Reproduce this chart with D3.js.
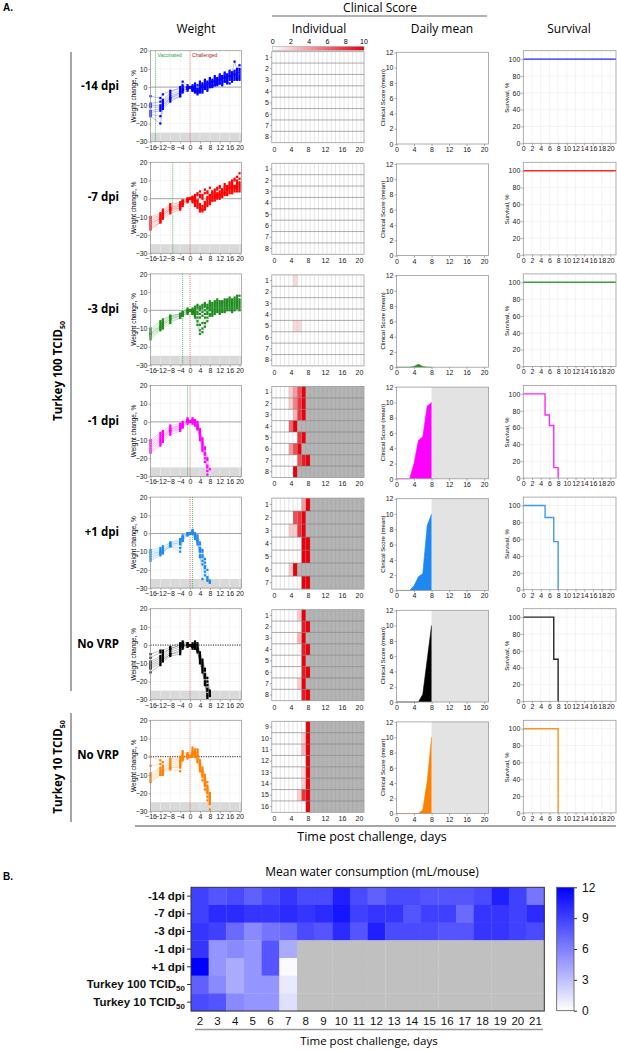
<!DOCTYPE html>
<html><head><meta charset="utf-8">
<script src="https://cdn.jsdelivr.net/npm/d3@7"></script>
<style>
body{margin:0;background:#fff}
svg{display:block}
text{font-family:"Liberation Sans",Arial,sans-serif}
.hd{font-family:"Open Sans",sans-serif}
</style>
</head><body><svg id="c" width="617" height="1050"></svg>
<script>
// ---------------- DATA ----------------
const rowLabels = ["-14 dpi","-7 dpi","-3 dpi","-1 dpi","+1 dpi","No VRP","No VRP"];
const rowColors = ["#0000ff","#ff0000","#1e8c1e","#ff00ff","#1e88f0","#000000","#ff8000"];
const vaccDays  = [-14,-7,-3,-1,1,null,null];
const mouseIds  = [[1,2,3,4,5,6,7,8],[1,2,3,4,5,6,7,8],[1,2,3,4,5,6,7,8],[1,2,3,4,5,6,7,8],[1,2,3,4,5,6,7],[1,2,3,4,5,6,7,8],[9,10,11,12,13,14,15,16]];

const weightDaysLong  = [-16,-12,-11,-8,-4,-3,-1,0,1,2,3,4,5,6,7,8,9,10,11,12,13,14,15,16,17,18,19,20];
const weightDaysShort = [-16,-12,-11,-8,-4,-3,-1,0,1,2,3,4,5,6,7,8];

const weightR1 = [
 [-5,-6,-4,-2,-1,3,1,0, 1,2,1,3,2,4,3,5,4,6,5,7,6,8,7,9,8,14,10,12],
 [-9,-8,-7,-3,0,1,0,0, 0,1,-1,2,1,3,2,4,3,5,4,6,6,7,6,8,8,9,9,10],
 [-10,-10,-8,-4,-2,0,0,0, -1,0,-2,1,0,2,1,3,3,4,3,5,5,6,5,7,7,8,7,9],
 [-11,-11,-9,-5,-3,-1,-1,0, 0,-1,-3,0,1,1,2,2,3,3,4,4,5,5,6,6,7,7,8,8],
 [-13,-12,-10,-6,-3,-1,0,0, -1,-2,-1,-1,0,0,1,2,2,3,2,4,4,5,3,6,5,7,6,6],
 [-14,-13,-10,-6,-4,-2,-1,0, -2,-1,-3,-2,-1,0,0,1,1,2,3,3,2,4,4,5,6,6,5,7],
 [-15,-16,-11,-7,-5,-2,-1,0, -1,-3,-2,-3,-2,-1,-1,0,1,1,2,2,3,3,2,4,4,5,4,5],
 [-16,-20,-12,-8,-5,-3,-2,0, -2,-2,-4,-2,-3,-1,-2,0,0,1,1,2,1,3,3,2,3,4,5,4]];
const weightR2 = [
 [-10,-8,-6,-3,-2,-1,0,0, 1,2,3,4,2,5,3,6,4,5,6,7,5,8,6,9,10,11,12,14],
 [-11,-9,-7,-4,-3,-1,0,0, 0,1,2,2,1,3,4,2,3,4,5,6,4,7,7,8,9,10,10,11],
 [-12,-10,-8,-5,-3,-2,0,0, 0,0,-1,1,0,-2,1,2,3,3,2,4,5,6,6,7,8,7,9,9],
 [-13,-11,-8,-5,-4,-2,-1,0, -1,-2,-1,-3,-4,-2,0,1,2,1,2,3,4,5,5,6,7,6,8,8],
 [-14,-11,-9,-6,-4,-2,-1,0, 1,-1,-2,-4,-5,-3,-1,0,1,2,3,2,3,4,5,6,6,7,7,7],
 [-15,-12,-9,-6,-5,-3,-1,0, 0,-2,-3,-5,-6,-4,-2,-1,0,1,1,2,3,3,4,5,5,6,6,6],
 [-16,-13,-10,-7,-5,-3,-1,0, -1,-3,-4,-6,-7,-5,-3,-2,-1,0,1,1,2,3,3,4,4,5,5,5],
 [-17,-13,-11,-8,-6,-4,-2,0, -2,-4,-5,-7,-6,-6,-4,-3,-1,-1,0,0,1,2,2,3,3,4,4,4]];
const weightR3 = [
 [-10,-6,-5,-3,-2,-1,1,0, 1,2,3,2,3,4,3,5,4,5,6,5,4,6,5,7,6,7,8,8],
 [-11,-7,-6,-3,-2,-1,0,0, 0,1,2,1,2,3,2,4,3,4,5,4,5,5,6,6,5,6,7,6],
 [-12,-8,-7,-4,-2,-2,0,0, 0,0,1,0,1,2,1,3,2,3,4,3,4,4,5,5,4,5,6,5],
 [-13,-9,-7,-4,-3,-2,0,0, -1,0,-1,-2,-1,0,1,2,1,2,3,2,3,3,4,4,3,4,5,4],
 [-13,-9,-8,-5,-3,-2,-1,0, -1,-1,-2,-4,-3,-2,-1,1,0,1,2,1,2,2,3,3,2,3,4,3],
 [-14,-10,-8,-5,-3,-3,-1,0, -1,-2,-4,-8,-7,-4,-2,0,-1,0,1,0,1,1,2,2,1,2,3,2],
 [-15,-10,-9,-6,-4,-3,-1,0, -2,-3,-6,-11,-10,-7,-4,-2,-2,-1,0,-1,0,0,1,1,0,1,2,1],
 [-16,-11,-10,-7,-4,-3,-2,0, -2,-4,-8,-13,-12,-9,-6,-3,-3,-2,-1,-2,-1,-1,0,0,-1,0,1,0]];
const weightR4 = [
 [-10,-6,-5,-2,-1,0,2,0, 1,0,-1,-5,-10,-15,-20,-26],
 [-11,-7,-6,-3,-2,-1,1,0, 2,1,0,-4,-9,-14,-21,null],
 [-12,-8,-7,-4,-2,-1,1,0, 1,0,-2,-6,-11,-17,-24,null],
 [-13,-9,-8,-4,-3,-2,0,0, 0,-1,-3,-7,-13,null,null,null],
 [-14,-10,-8,-5,-3,-2,0,0, 1,0,-2,-6,-12,-18,-25,null],
 [-15,-11,-9,-5,-4,-2,1,0, 0,-1,-3,-8,-14,-20,-27,null],
 [-16,-12,-10,-6,-4,-3,0,0, 0,-1,-4,-9,-15,-22,-29,null],
 [-17,-13,-11,-7,-5,-3,-1,0, -1,-2,-4,-10,-16,null,null,null]];
const weightR5 = [
 [-9,-8,-7,-5,-3,-1,0,0, 1,0,-1,-5,-9,-14,-20,-26],
 [-10,-9,-8,-5,-4,-2,0,0, 2,0,-2,-6,-10,-16,null,null],
 [-11,-10,-9,-6,-5,-2,0,0, 1,-1,-3,-8,-12,-18,null,null],
 [-12,-10,-9,-6,-5,-3,0,0, 1,-1,-4,-9,-13,-19,-24,-27],
 [-13,-11,-10,-7,-6,-3,0,0, 0,-2,-4,-10,-15,-21,-25,-26],
 [-14,-11,-10,-7,-8,-4,-1,0, 0,-2,-5,-12,-25,null,null,null],
 [-15,-12,-11,-7,-10,-4,-1,0, 0,-3,-6,-13,-17,-23,-26,-27]];
const weightR6 = [
 [-5,-3,-3,-1,1,2,1,0, 1,2,1,-4,-8,-13,-18,-25],
 [-7,-4,-4,-2,0,1,1,0, 0,1,0,-5,-9,-14,-20,-26],
 [-9,-6,-5,-2,0,1,0,0, 0,0,-1,-6,-10,-16,-22,-27],
 [-10,-7,-6,-3,-1,0,0,0, -1,0,-2,-6,-11,-17,-24,-28],
 [-11,-8,-7,-4,-2,0,0,0, 0,-1,-2,-7,-12,-18,-25,null],
 [-12,-9,-8,-5,-3,-1,0,0, -1,-1,-3,-8,-13,-20,-27,null],
 [-13,-10,-8,-5,-4,-1,0,0, -1,-2,-3,-9,-14,-21,-28,null],
 [-15,-11,-9,-6,-5,-2,-1,0, -2,-2,-4,-10,-15,-22,-29,null]];
const weightR7 = [
 [0,-2,-3,-1,0,2,2,0, 5,4,4,-2,-6,-10,-14,-20],
 [-5,-4,-5,-2,-1,3,1,0, 4,3,3,-3,-7,-11,-16,-21],
 [-9,-6,-6,-3,-2,1,1,0, 3,2,2,-4,-8,-12,-17,-22],
 [-10,-7,-7,-4,-3,0,1,0, 2,2,1,-4,-8,-13,-18,-23],
 [-11,-8,-8,-5,-4,0,0,0, 2,1,0,-5,-9,-14,-19,-24],
 [-12,-9,-8,-6,-5,-1,0,0, 1,1,-1,-6,-10,-15,-20,-25],
 [-13,-10,-9,-6,-6,-1,0,0, 1,0,-2,-7,-11,-16,-22,-26],
 [-14,-10,-10,-7,-8,-2,-1,0, 0,0,-3,-8,-13,-18,-24,-29]];
const weightRows = [weightR1,weightR2,weightR3,weightR4,weightR5,weightR6,weightR7];

// individual clinical scores: [death day or null, [[day,score],...]]
const indivR1 = [[null,[]],[null,[]],[null,[]],[null,[]],[null,[]],[null,[]],[null,[]],[null,[]]];
const indivR2 = [[null,[]],[null,[]],[null,[]],[null,[]],[null,[]],[null,[]],[null,[]],[null,[]]];
const indivR3 = [[null,[[5,1.5]]],[null,[]],[null,[]],[null,[]],[null,[[5,1.5],[6,1.5]]],[null,[]],[null,[]],[null,[]]];
const indivR4 = [
 [7,[[4,2],[5,4],[6,7],[7,10]]],
 [7,[[4,2],[5,5],[6,8],[7,10]]],
 [7,[[5,3],[6,8],[7,10]]],
 [5,[[4,6],[5,10]]],
 [7,[[6,8],[7,10]]],
 [6,[[4,4],[5,7],[6,10]]],
 [8,[[6,7],[7,9],[8,10]]],
 [5,[[5,10]]]];
const indivR5 = [
 [8,[[7,4],[8,10]]],
 [7,[[5,7],[6,8],[7,10]]],
 [7,[[4,2],[5,2],[6,8],[7,10]]],
 [8,[[7,10],[8,10]]],
 [8,[[7,10],[8,10]]],
 [5,[[4,2],[5,10]]],
 [8,[[7,10],[8,10]]]];
const indivR6 = [
 [7,[[6,2],[7,10]]],
 [8,[[7,9],[8,10]]],
 [7,[[6,3],[7,10]]],
 [8,[[7,9],[8,10]]],
 [7,[[7,10]]],
 [8,[[7,9],[8,10]]],
 [7,[[6,2],[7,10]]],
 [8,[[7,9],[8,10]]]];
const indivR7 = [
 [8,[[8,10]]],
 [8,[[7,2],[8,10]]],
 [8,[[7,3],[8,10]]],
 [8,[[8,10]]],
 [8,[[7,1.5],[8,10]]],
 [8,[[7,2],[8,10]]],
 [8,[[6,2],[7,8],[8,10]]],
 [8,[[8,10]]]];
const indivRows = [indivR1,indivR2,indivR3,indivR4,indivR5,indivR6,indivR7];
const scoreTicks = [0,2,4,6,8,10];

// daily mean clinical score
const meanDays = [0,1,2,3,4,5,6,7,8];
const meanR1 = null, meanR2 = null;
const meanR3 = [0,0,0,0,0.1,0.4,0.1,0,0];
const meanR4 = [0,0,0,0,2,5,5.5,9.5,10];
const meanR5 = [0,0,0,0,0.6,1.8,2.2,8.5,10];
const meanR6 = [0,0,0,0,0,0,1,5.5,10];
const meanR7 = [0,0,0,0,0,0,0.5,4.2,10];
const meanRows = [meanR1,meanR2,meanR3,meanR4,meanR5,meanR6,meanR7];
const deadFrom = [null,null,null,8,8,8,8];

// survival [day, %]
const survR1 = [[0,100],[21.3,100]];
const survR2 = [[0,100],[21.3,100]];
const survR3 = [[0,100],[21.3,100]];
const survR4 = [[0,100],[5,75],[6,62.5],[7,12.5],[8,0]];
const survR5 = [[0,100],[5,85.7],[7,57.1],[8,0]];
const survR6 = [[0,100],[7,50],[8,0]];
const survR7 = [[0,100],[8,0]];
const survRows = [survR1,survR2,survR3,survR4,survR5,survR6,survR7];

// water consumption heat map
const waterRows = ["-14 dpi","-7 dpi","-3 dpi","-1 dpi","+1 dpi","Turkey 100 TCID","Turkey 10 TCID"];
const waterDays = [2,3,4,5,6,7,8,9,10,11,12,13,14,15,16,17,18,19,20,21];
const N = null;
const waterM14 = [9,8,8.5,7.5,8.5,9.5, 8.5,8.5,10.5,8.5,7.5,8.5,8.5,8,8,8,8.5,10.5,9,6.5];
const waterM7  = [9,10,10,9.5,9.5,10, 9.5,10,11,9,9.5,9.5,8,9,9,7,9.5,9.5,9,10];
const waterM3  = [9.5,9,7,5.5,6.5,7, 8.5,8,10,8,10.5,8.5,8.5,8.5,8,8,9.5,9.5,9,8.5];
const waterM1  = [9.5,5,5.5,5,8,4, N,N,N,N,N,N,N,N,N,N,N,N,N,N];
const waterP1  = [12,5,4,5,8,0.2, N,N,N,N,N,N,N,N,N,N,N,N,N,N];
const waterT100= [7.5,5.5,4,5,5,1, N,N,N,N,N,N,N,N,N,N,N,N,N,N];
const waterT10 = [8.5,8,5.5,5,5,1.5, N,N,N,N,N,N,N,N,N,N,N,N,N,N];
const waterValues = [waterM14,waterM7,waterM3,waterM1,waterP1,waterT100,waterT10];
const waterTicks = [0,3,6,9,12];

// ---------------- DRAW ----------------
const svg = d3.select("#c");
const TOP0 = 50.7, PITCH = 111.6;
const tickFont = 7;

function styleAxis(g){
  g.select(".domain").remove();
  g.selectAll(".tick line").attr("stroke","#777").attr("stroke-width",0.6);
  g.selectAll(".tick text").attr("font-size",tickFont).attr("fill","#222");
}
function box(g,x0,y0,x1,y1,col){
  g.append("rect").attr("x",x0).attr("y",y0).attr("width",x1-x0).attr("height",y1-y0)
   .attr("fill","none").attr("stroke",col||"#9a9a9a").attr("stroke-width",0.8);
}

// headers
svg.append("text").attr("x",3).attr("y",11).attr("font-size",10).attr("font-weight","bold").text("A.");
svg.append("text").attr("class","hd").attr("x",380).attr("y",12).attr("text-anchor","middle").attr("font-size",12).text("Clinical Score");
svg.append("line").attr("x1",272).attr("x2",487).attr("y1",16).attr("y2",16).attr("stroke","#666").attr("stroke-width",1.2);
[["Weight",196],["Individual",319],["Daily mean",442],["Survival",569]].forEach(([t,x])=>{
  svg.append("text").attr("class","hd").attr("x",x).attr("y",33).attr("text-anchor","middle").attr("font-size",12).text(t);
});

// colour bar for individual scores
const redScale = d3.scaleLinear().domain([0,10]).range(["#ffffff","#e8000b"]);
const defs = svg.append("defs");
const lg = defs.append("linearGradient").attr("id","redg");
lg.append("stop").attr("offset","0%").attr("stop-color",redScale(0));
lg.append("stop").attr("offset","100%").attr("stop-color",redScale(10));
const cbx = d3.scaleLinear().domain([0,10]).range([272.7,364]);
svg.append("rect").attr("x",272.7).attr("y",46.5).attr("width",364-272.7).attr("height",3.8).attr("fill","url(#redg)").attr("stroke","#999").attr("stroke-width",0.5);
scoreTicks.forEach(t=>svg.append("text").attr("x",cbx(t)).attr("y",43.5).attr("text-anchor","middle").attr("font-size",tickFont).text(t));

rowLabels.forEach((lab,i)=>{
  const top = TOP0 + PITCH*i;
  const col = rowColors[i];
  // row label
  svg.append("text").attr("class","hd").attr("x",119).attr("y",top+39).attr("text-anchor","end")
    .attr("font-size",11.5).attr("font-weight","bold").text(lab);

  // ---- weight
  const gW = svg.append("g");
  const x = d3.scaleLinear().domain([-16,20.8]).range([150.5,241.5]);
  const y = d3.scaleLinear().domain([-30,20]).range([top+91,top]);
  gW.append("rect").attr("x",x.range()[0]).attr("width",x.range()[1]-x.range()[0]).attr("y",y(-25)).attr("height",y(-30)-y(-25)).attr("fill","#d9d9d9");
  [-16,-12,-8,-4,4,8,12,16,20].forEach(t=>gW.append("line").attr("x1",x(t)).attr("x2",x(t)).attr("y1",top).attr("y2",top+91).attr("stroke","#efefef").attr("stroke-width",0.6));
  [-20,-10,10].forEach(t=>gW.append("line").attr("x1",150.5).attr("x2",241.5).attr("y1",y(t)).attr("y2",y(t)).attr("stroke","#efefef").attr("stroke-width",0.6));
  if(i>=5) gW.append("line").attr("x1",150.5).attr("x2",241.5).attr("y1",y(0)).attr("y2",y(0)).attr("stroke","#111").attr("stroke-width",0.9).attr("stroke-dasharray","1.2,1.2");
  else gW.append("line").attr("x1",150.5).attr("x2",241.5).attr("y1",y(0)).attr("y2",y(0)).attr("stroke","#8a8a8a").attr("stroke-width",0.8);
  if(vaccDays[i]!==null){
    gW.append("line").attr("x1",x(vaccDays[i])).attr("x2",x(vaccDays[i])).attr("y1",top).attr("y2",top+91).attr("stroke","#2aa84a").attr("stroke-width",0.8).attr("stroke-dasharray","1,1");
  }
  gW.append("line").attr("x1",x(0)).attr("x2",x(0)).attr("y1",top).attr("y2",top+91).attr("stroke","#e05050").attr("stroke-width",0.8).attr("stroke-dasharray","1,1");
  if(i===0){
    gW.append("text").attr("x",x(-14)+2).attr("y",top+6).attr("font-size",5).attr("fill","#2aa84a").text("Vaccinated");
    gW.append("text").attr("x",x(0)+2).attr("y",top+6).attr("font-size",5).attr("fill","#b02020").text("Challenged");
  }
  const days = i<3 ? weightDaysLong : weightDaysShort;
  const line = d3.line().defined(d=>d[1]!==null).x(d=>x(d[0])).y(d=>y(d[1]));
  weightRows[i].forEach(m=>{
    const pts = m.map((v,k)=>[days[k],v]);
    gW.append("path").attr("d",line(pts)).attr("fill","none").attr("stroke",col).attr("stroke-opacity",0.4).attr("stroke-width",0.6);
    pts.filter(p=>p[1]!==null).forEach(p=>gW.append("rect").attr("x",x(p[0])-1.1).attr("y",y(p[1])-1.1).attr("width",2.2).attr("height",2.2).attr("fill",col));
  });
  box(gW,150.5,top,241.5,top+91);
  gW.append("g").attr("transform",`translate(150.5,0)`).call(d3.axisLeft(y).tickValues([-30,-20,-10,0,10,20]).tickSize(2).tickPadding(1)).call(styleAxis);
  gW.append("g").attr("transform",`translate(0,${top+91})`).call(d3.axisBottom(x).tickValues([-16,-12,-8,-4,0,4,8,12,16,20]).tickSize(2).tickPadding(1)).call(styleAxis);
  gW.append("text").attr("transform",`translate(136,${top+45.5}) rotate(-90)`).attr("text-anchor","middle").attr("font-size",6.5).text("Weight change, %");

  // ---- individual
  const gI = svg.append("g");
  const ix = d3.scaleLinear().domain([-0.5,21.2]).range([271.8,364]);
  const mice = mouseIds[i];
  const iy = d3.scaleBand().domain(mice).range([top+1,top+92]);
  indivRows[i].forEach((m,k)=>{
    const id = mice[k];
    if(m[0]!==null){
      gI.append("rect").attr("x",ix(m[0]+0.5)).attr("width",ix(21.2)-ix(m[0]+0.5)).attr("y",iy(id)).attr("height",iy.bandwidth()).attr("fill","#b4b4b4");
    }
    m[1].forEach(([d,s])=>gI.append("rect").attr("x",ix(d-0.5)).attr("width",ix(d+0.5)-ix(d-0.5)).attr("y",iy(id)).attr("height",iy.bandwidth()).attr("fill",redScale(s)));
  });
  d3.range(0,21).forEach(d=>gI.append("line").attr("x1",ix(d+0.5)).attr("x2",ix(d+0.5)).attr("y1",top+1).attr("y2",top+92).attr("stroke","#8c8c8c").attr("stroke-opacity",0.45).attr("stroke-width",0.5));
  mice.slice(1).forEach(id=>gI.append("line").attr("x1",ix(-0.5)).attr("x2",ix(21.2)).attr("y1",iy(id)).attr("y2",iy(id)).attr("stroke","#777").attr("stroke-width",0.6));
  box(gI,ix(-0.5),top+1,ix(21.2),top+92);
  gI.append("g").attr("transform",`translate(${ix(-0.5)},0)`).call(d3.axisLeft(iy).tickSize(2).tickPadding(1)).call(styleAxis);
  gI.append("g").attr("transform",`translate(0,${top+92})`).call(d3.axisBottom(ix).tickValues([0,4,8,12,16,20]).tickSize(0).tickPadding(4)).call(styleAxis);

  // ---- daily mean
  const gD = svg.append("g");
  const dx = d3.scaleLinear().domain([0,21]).range([396.5,488.5]);
  const dy = d3.scaleLinear().domain([0,12]).range([top+93.3,top+1.6]);
  if(deadFrom[i]!==null) gD.append("rect").attr("x",dx(deadFrom[i])).attr("width",dx(21)-dx(deadFrom[i])).attr("y",dy(12)).attr("height",dy(0)-dy(12)).attr("fill","#e3e3e3");
  if(meanRows[i]){
    const pts = meanRows[i].map((v,k)=>[meanDays[k],v]);
    gD.append("path").attr("d",d3.area().x(d=>dx(d[0])).y0(dy(0)).y1(d=>dy(d[1]))(pts)).attr("fill",col);
    gD.append("path").attr("d",d3.line().x(d=>dx(d[0])).y(d=>dy(d[1]))(pts)).attr("fill","none").attr("stroke",col).attr("stroke-width",0.6);
  }
  box(gD,396.5,top+1.6,488.5,top+93.3);
  gD.append("g").attr("transform",`translate(396.5,0)`).call(d3.axisLeft(dy).tickValues([0,2,4,6,8,10,12]).tickSize(2).tickPadding(1)).call(styleAxis);
  gD.append("g").attr("transform",`translate(0,${top+93.3})`).call(d3.axisBottom(dx).tickValues([0,4,8,12,16,20]).tickSize(2).tickPadding(1)).call(styleAxis);
  gD.append("text").attr("transform",`translate(385,${top+47}) rotate(-90)`).attr("text-anchor","middle").attr("font-size",6).text("Clinical Score (mean)");

  // ---- survival
  const gS = svg.append("g");
  const sx = d3.scaleLinear().domain([0,21.3]).range([523.3,616]);
  const sy = d3.scaleLinear().domain([0,110]).range([top+92.6,top]);
  d3.range(2,22,2).forEach(t=>gS.append("line").attr("x1",sx(t)).attr("x2",sx(t)).attr("y1",top).attr("y2",top+92.6).attr("stroke","#ececec").attr("stroke-width",0.6));
  [20,40,60,80,100].forEach(t=>gS.append("line").attr("x1",523.3).attr("x2",616).attr("y1",sy(t)).attr("y2",sy(t)).attr("stroke","#ececec").attr("stroke-width",0.6));
  gS.append("path").attr("d",d3.line().curve(d3.curveStepAfter).x(d=>sx(d[0])).y(d=>sy(d[1]))(survRows[i]))
    .attr("fill","none").attr("stroke",col).attr("stroke-opacity",0.85).attr("stroke-width",1.4);
  box(gS,523.3,top,616,top+92.6);
  gS.append("g").attr("transform",`translate(523.3,0)`).call(d3.axisLeft(sy).tickValues([0,20,40,60,80,100]).tickSize(2).tickPadding(1)).call(styleAxis);
  gS.append("g").attr("transform",`translate(0,${top+92.6})`).call(d3.axisBottom(sx).tickValues(d3.range(0,22,2)).tickSize(2).tickPadding(1)).call(styleAxis);
  gS.append("text").attr("transform",`translate(509,${top+47}) rotate(-90)`).attr("text-anchor","middle").attr("font-size",6).text("Survival, %");
});

// group labels
function groupLabel(cy, y0, y1, dose){
  const t = svg.append("text").attr("class","hd").attr("transform",`translate(62,${cy}) rotate(-90)`).attr("text-anchor","middle")
    .attr("font-size",11.5).attr("font-weight","bold");
  t.append("tspan").text("Turkey "+dose+" TCID");
  t.append("tspan").attr("font-size",7).attr("dy",3).text("50");
  svg.append("line").attr("x1",71).attr("x2",71).attr("y1",y0).attr("y2",y1).attr("stroke","#888").attr("stroke-width",1.5);
}
groupLabel(371, 52, 691, "100");
groupLabel(767, 713, 822, "10");

svg.append("line").attr("x1",135).attr("x2",616).attr("y1",826).attr("y2",826).attr("stroke","#888").attr("stroke-width",1.5);
svg.append("text").attr("class","hd").attr("x",372).attr("y",841).attr("text-anchor","middle").attr("font-size",12.5).text("Time post challenge, days");

// ---------------- B ----------------
svg.append("text").attr("x",3).attr("y",880).attr("font-size",10).attr("font-weight","bold").text("B.");
svg.append("text").attr("class","hd").attr("x",372).attr("y",876).attr("text-anchor","middle").attr("font-size",12).text("Mean water consumption (mL/mouse)");
const bx = d3.scaleBand().domain(waterDays).range([191,544.3]);
const by = d3.scaleBand().domain(waterRows).range([887.3,1011]);
const blue = d3.scaleLinear().domain([0,12]).range(["#ffffff","#0000ff"]);
const gB = svg.append("g");
waterValues.forEach((vals,r)=>vals.forEach((v,c)=>{
  gB.append("rect").attr("x",bx(waterDays[c])).attr("y",by(waterRows[r])).attr("width",bx.bandwidth()+0.3).attr("height",by.bandwidth()+0.3)
    .attr("fill",v===null?"#c0c0c0":blue(v));
}));
gB.append("rect").attr("x",191).attr("y",887.3).attr("width",544.3-191).attr("height",1011-887.3).attr("fill","none").attr("stroke","#333").attr("stroke-width",1);
const ya = gB.append("g").attr("transform","translate(191,0)").call(d3.axisLeft(by).tickSize(4).tickPadding(2));
ya.select(".domain").remove();
ya.selectAll(".tick line").attr("stroke","#333");
ya.selectAll(".tick text").attr("font-size",11.5).attr("font-weight","bold").attr("fill","#111").each(function(d){
  if(d.indexOf("TCID")>=0){
    d3.select(this).append("tspan").attr("font-size",8).attr("dy",3).text("50");
  }
});
const xa = gB.append("g").attr("transform","translate(0,1011)").call(d3.axisBottom(bx).tickSize(0).tickPadding(6));
xa.select(".domain").remove();
xa.selectAll(".tick text").attr("font-size",11.5).attr("fill","#111");
svg.append("line").attr("x1",195).attr("x2",543).attr("y1",1029.5).attr("y2",1029.5).attr("stroke","#999").attr("stroke-width",1.5);
svg.append("text").attr("class","hd").attr("x",369).attr("y",1045).attr("text-anchor","middle").attr("font-size",11.5).text("Time post challenge, days");

// colour bar
const bg = defs.append("linearGradient").attr("id","blueg").attr("x1","0").attr("x2","0").attr("y1","1").attr("y2","0");
bg.append("stop").attr("offset","0%").attr("stop-color",blue(0));
bg.append("stop").attr("offset","100%").attr("stop-color",blue(12));
svg.append("rect").attr("x",556.7).attr("y",887.3).attr("width",17.3).attr("height",1010.7-887.3).attr("fill","url(#blueg)").attr("stroke","#555").attr("stroke-width",0.8);
const cy = d3.scaleLinear().domain([0,12]).range([1010.7,887.3]);
const ca = svg.append("g").attr("transform","translate(574,0)").call(d3.axisRight(cy).tickValues(waterTicks).tickSize(3).tickPadding(5));
ca.select(".domain").remove();
ca.selectAll(".tick line").attr("stroke","#333");
ca.selectAll(".tick text").attr("font-size",12).attr("fill","#111");
</script></body></html>
